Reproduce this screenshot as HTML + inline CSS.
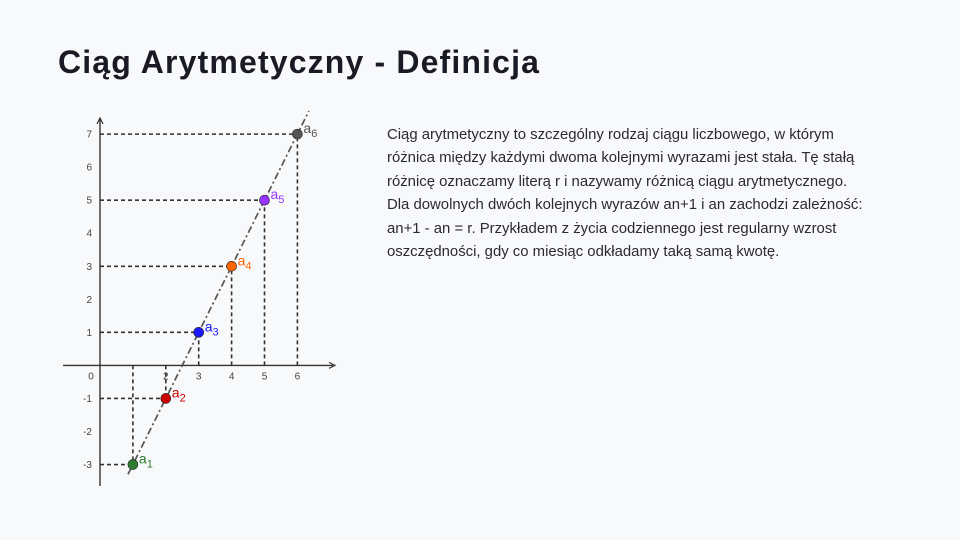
<!DOCTYPE html>
<html><head><meta charset="utf-8">
<style>
html,body{margin:0;padding:0;}
body{width:960px;height:540px;background:#f8f9fb;position:relative;overflow:hidden;font-family:"Liberation Sans",sans-serif;color:#1a1a24;}
#title{position:absolute;left:58px;top:44px;font-size:32px;font-weight:bold;letter-spacing:1.15px;margin:0;white-space:nowrap;}
#desc{position:absolute;left:387px;top:124px;font-size:14.9px;line-height:23.4px;color:#2a2a33;white-space:nowrap;margin:0;}
#chart{position:absolute;left:0;top:0;}
</style></head><body>
<h1 id="title">Ciąg Arytmetyczny - Definicja</h1>
<p id="desc">Ciąg arytmetyczny to szczególny rodzaj ciągu liczbowego, w którym<br>różnica między każdymi dwoma kolejnymi wyrazami jest stała. Tę stałą<br>różnicę oznaczamy literą r i nazywamy różnicą ciągu arytmetycznego.<br>Dla dowolnych dwóch kolejnych wyrazów an+1 i an zachodzi zależność:<br>an+1 - an = r. Przykładem z życia codziennego jest regularny wzrost<br>oszczędności, gdy co miesiąc odkładamy taką samą kwotę.</p>
<svg id="chart" width="960" height="540"></svg>
<script>
const termIndex=[1,2,3,4,5,6];
const termValues=[-3,-1,1,3,5,7];
const termColors=["#2e7d32","#cc0000","#1a1aff","#ff6600","#9933ff","#555555"];
const xTicks=[0,2,3,4,5,6];
const yTicks=[-3,-2,-1,1,2,3,4,5,6,7];
const ox=100,oy=365.4,ux=32.9,uy=33.04;
const X=v=>ox+v*ux, Y=v=>oy-v*uy;
const svg=document.getElementById('chart');
const NS='http://www.w3.org/2000/svg';
function mk(t,a){const e=document.createElementNS(NS,t);for(const k in a)e.setAttribute(k,a[k]);svg.appendChild(e);return e;}
let e;
e=mk('line',{x1:63,y1:oy,x2:333,y2:oy,stroke:'#333','stroke-width':1.4});


e=mk('path',{d:`M329 ${oy-3} L335 ${oy} L329 ${oy+3}`,fill:'none',stroke:'#333','stroke-width':1.2});


e=mk('line',{x1:ox,y1:118,x2:ox,y2:486,stroke:'#333','stroke-width':1.4});


e=mk('path',{d:`M${ox-3} 124 L${ox} 118 L${ox+3} 124`,fill:'none',stroke:'#333','stroke-width':1.2});


xTicks.forEach(v=>{
  e=mk('text',{x:v===0?X(v)-9:X(v),y:oy+14,'font-size':10,'text-anchor':'middle',fill:'#444','font-family':'Liberation Sans, sans-serif'});
  e.textContent=v;
  
  
});
yTicks.forEach(v=>{
  e=mk('text',{x:ox-8,y:Y(v)+3.5,'font-size':10,'text-anchor':'end',fill:'#444','font-family':'Liberation Sans, sans-serif'});
  e.textContent=v;
  
  
});
const n=termIndex.length;
const slope=(termValues[n-1]-termValues[0])/(termIndex[n-1]-termIndex[0]);
const xa=termIndex[0]-0.15,xb=termIndex[n-1]+0.35;
e=mk('line',{x1:X(xa),y1:Y(termValues[0]+slope*(xa-termIndex[0])),x2:X(xb),y2:Y(termValues[0]+slope*(xb-termIndex[0])),stroke:'#555','stroke-width':1.7,'stroke-dasharray':'7 3 2 3'});


termIndex.forEach((k,i)=>{
  const v=termValues[i];
  e=mk('line',{x1:ox,y1:Y(v),x2:X(k),y2:Y(v),stroke:'#333','stroke-width':1.6,'stroke-dasharray':'4 3'});
  
  
  e=mk('line',{x1:X(k),y1:oy,x2:X(k),y2:Y(v),stroke:'#333','stroke-width':1.6,'stroke-dasharray':'4 3'});
  
  
});
termIndex.forEach((k,i)=>{
  const v=termValues[i];
  e=mk('circle',{cx:X(k),cy:Y(v),r:5,fill:termColors[i],stroke:'#222','stroke-width':0.6});
  
  
  const t=mk('text',{x:X(k)+6,y:Y(v)-1,'font-size':14,fill:termColors[i],'font-family':'Liberation Sans, sans-serif'});
  t.innerHTML='a<tspan font-size="11" dy="4">'+k+'</tspan>';
  
  
});
</script>
</body></html>
